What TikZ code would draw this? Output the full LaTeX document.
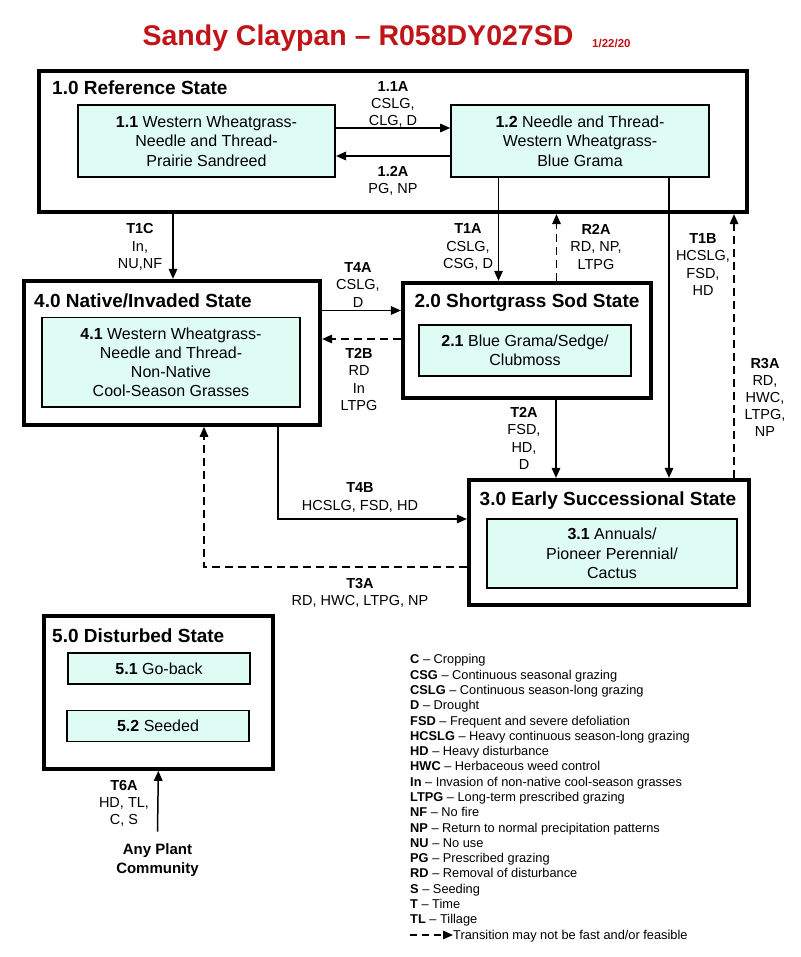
\documentclass[tikz,border=0pt]{standalone}
\usepackage{fontspec}
\setmainfont{Liberation Sans}
\usetikzlibrary{arrows.meta}
\definecolor{boxfill}{RGB}{222,251,244}
\definecolor{titlered}{RGB}{192,20,24}
\begin{document}
\begin{tikzpicture}[x=1pt,y=-1pt,
  statebox/.style={draw, line width=4.2pt, inner sep=0pt, fill=white},
  inbox/.style={draw, line width=1.6pt, fill=boxfill, inner sep=0pt, align=center,
    font=\fontsize{16}{19.3}\selectfont},
  lbl/.style={align=center, inner sep=0pt, font=\fontsize{14.5}{17.2}\selectfont},
  stitle/.style={inner sep=0pt, font=\bfseries\fontsize{19}{22}\selectfont},
  arr/.style={line width=1.5pt, -{Triangle[length=10pt,width=8.5pt]}},
  darr/.style={arr, dash pattern=on 8pt off 5pt},
  legend/.style={anchor=base west, inner sep=0pt, font=\fontsize{12.8}{15.3}\selectfont}]
\fill[white] (0,0) rectangle (800,957);
\useasboundingbox (0,0) rectangle (800,957);

% title
\node[inner sep=0pt, text=titlered, font=\bfseries\fontsize{28.5}{32}\selectfont] (title) at (358,38) {Sandy Claypan – R058DY027SD};
\node[anchor=west, inner sep=0pt, text=titlered, font=\bfseries\fontsize{11.5}{13}\selectfont] (date) at (592,43.5) {1/22/20};

% state boxes
\node[statebox, minimum width=708pt, minimum height=141pt] (s1) at (393,141.5) {};
\node[statebox, minimum width=296.3pt, minimum height=143.7pt] (s4) at (171.85,352.85) {};
\node[statebox, minimum width=248pt, minimum height=115pt] (s2) at (527,340.5) {};
\node[statebox, minimum width=280pt, minimum height=125pt] (s3) at (609,542.5) {};
\node[statebox, minimum width=229.3pt, minimum height=152.7pt] (s5) at (158.35,692.35) {};

% state titles
\node[stitle, anchor=west] (t1) at (52,88) {1.0 Reference State};
\node[stitle, anchor=west] (t4) at (34,300.5) {4.0 Native/Invaded State};
\node[stitle] (t2) at (527,303) {2.0 Shortgrass Sod State};
\node[stitle] (t3) at (608,501) {3.0 Early Successional State};
\node[stitle, anchor=west] (t5) at (52,636) {5.0 Disturbed State};

% community boxes
\node[inbox, minimum width=257.5pt, minimum height=72pt] (b11) at (206.5,141) {\textbf{1.1} Western Wheatgrass-\\Needle and Thread-\\Prairie Sandreed};
\node[inbox, minimum width=258pt, minimum height=72pt] (b12) at (580,141) {\textbf{1.2} Needle and Thread-\\Western Wheatgrass-\\Blue Grama};
\node[inbox, minimum width=258pt, minimum height=89.5pt] (b41) at (171,362.25) {\textbf{4.1} Western Wheatgrass-\\Needle and Thread-\\Non-Native\\Cool-Season Grasses};
\node[inbox, minimum width=212pt, minimum height=51pt] (b21) at (525,350.5) {\textbf{2.1} Blue Grama/Sedge/\\Clubmoss};
\node[inbox, minimum width=250pt, minimum height=69pt] (b31) at (612,553.5) {\textbf{3.1} Annuals/\\Pioneer Perennial/\\Cactus};
\node[inbox, minimum width=182pt, minimum height=31pt] (b51) at (159,668.5) {\textbf{5.1} Go-back};
\node[inbox, minimum width=182pt, minimum height=31pt] (b52) at (158,726) {\textbf{5.2} Seeded};

% transitions inside reference state
\draw[arr] (b11.east |- 0,128) -- (b12.west |- 0,128);
\draw[arr] (b12.west |- 0,156) -- (b11.east |- 0,156);
\node[lbl] (l11a) at (393,104.5) {\textbf{1.1A}\\CSLG,\\CLG, D};
\node[lbl] (l12a) at (393,180.5) {\textbf{1.2A}\\PG, NP};

% T1C
\draw[arr] (s1.south -| 173,0) -- (s4.north -| 173,0);
\node[lbl] (lt1c) at (140,247) {\textbf{T1C}\\In,\\NU,NF};
% T1A
\draw[arr] (b12.south -| 498.5,0) -- (s2.north -| 498.5,0);
\node[lbl] (lt1a) at (468,247) {\textbf{T1A}\\CSLG,\\CSG, D};
% R2A
\draw[darr] (s2.north -| 556.5,0) -- (s1.south -| 556.5,0);
\node[lbl] (lr2a) at (596,247) {\textbf{R2A}\\RD, NP,\\LTPG};
% T1B
\draw[arr] (b12.south -| 669,0) -- (s3.north -| 669,0);
\node[lbl] (lt1b) at (703,264.5) {\textbf{T1B}\\HCSLG,\\FSD,\\HD};
% R3A
\draw[darr] (s3.north -| 734,0) -- (s1.south -| 734,0);
\node[lbl] (lr3a) at (765,397.5) {\textbf{R3A}\\RD,\\HWC,\\LTPG,\\NP};

% T4A / T2B
\draw[arr] (s4.east |- 0,310.5) -- (s2.west |- 0,310.5);
\node[lbl] (lt4a) at (358,285) {\textbf{T4A}\\CSLG,\\D};
\draw[darr] (s2.west |- 0,339) -- (s4.east |- 0,339);
\node[lbl] (lt2b) at (359,379.5) {\textbf{T2B}\\RD\\In\\LTPG};

% T2A
\draw[arr] (s2.south -| 556,0) -- (s3.north -| 556,0);
\node[lbl] (lt2a) at (524,438.5) {\textbf{T2A}\\FSD,\\HD,\\D};

% T4B
\draw[arr] (s4.south -| 278,0) |- (s3.west |- 0,519);
\node[lbl] (lt4b) at (360,497.5) {\textbf{T4B}\\HCSLG, FSD, HD};

% T3A
\draw[darr] (s3.west |- 0,567) -| (s4.south -| 204,0);
\node[lbl] (lt3a) at (360,592.5) {\textbf{T3A}\\RD, HWC, LTPG, NP};

% T6A
\node[inner sep=0pt, align=center, font=\bfseries\fontsize{15}{18.5}\selectfont] (any) at (157.5,860) {Any Plant\\Community};
\draw[arr] ([yshift=12pt]any.north) -- (s5.south);
\node[lbl] (lt6a) at (124,803.5) {\textbf{T6A}\\HD, TL,\\C, S};

% legend
\foreach \ab/\tx [count=\i from 0] in {C/Cropping, CSG/Continuous seasonal grazing, CSLG/Continuous season-long grazing, D/Drought, FSD/Frequent and severe defoliation, HCSLG/Heavy continuous season-long grazing, HD/Heavy disturbance, HWC/Herbaceous weed control, In/Invasion of non-native cool-season grasses, LTPG/Long-term prescribed grazing, NF/No fire, NP/Return to normal precipitation patterns, NU/No use, PG/Prescribed grazing, RD/Removal of disturbance, S/Seeding, T/Time, TL/Tillage}
  \node[legend] (leg\i) at (410,663.9+15.29*\i) {\textbf{\ab} – \tx};
\coordinate (lgs) at (410,935);
\node[legend] (legT) at (453,939.6) {Transition may not be fast and/or feasible};
\draw[darr, line width=1.4pt, dash pattern=on 7pt off 5pt] (lgs) -- (legT.west |- lgs);
\end{tikzpicture}
\end{document}
